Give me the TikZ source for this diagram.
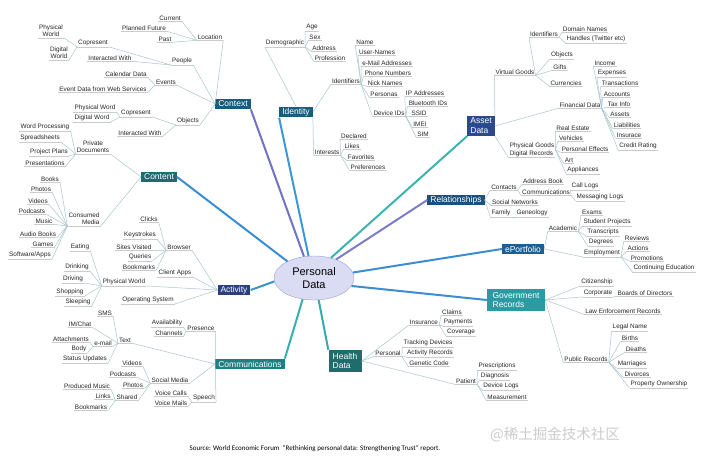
\documentclass[tikz,border=0pt]{standalone}
\usepackage{fontspec}
\setmainfont{Liberation Sans}
\newfontfamily\cjkfont{Noto Sans CJK SC}
\newfontfamily\capfont{Carlito}
\usetikzlibrary{shapes.geometric}
\definecolor{ctxc}{HTML}{1A5C7C}
\definecolor{idnc}{HTML}{1A5C7C}
\definecolor{astc}{HTML}{2B4A8E}
\definecolor{cntc}{HTML}{1D6C70}
\definecolor{relc}{HTML}{1C4F7C}
\definecolor{epc}{HTML}{1E5E90}
\definecolor{actc}{HTML}{2A3F7E}
\definecolor{comc}{HTML}{1F7F82}
\definecolor{hdc}{HTML}{1E6C6C}
\definecolor{govc}{HTML}{2A9BA2}
\definecolor{lctx}{HTML}{7072C4}
\definecolor{lidn}{HTML}{3C98D4}
\definecolor{lcnt}{HTML}{3B8DD3}
\definecolor{last}{HTML}{3DB4B0}
\definecolor{lrel}{HTML}{7C7CC8}
\definecolor{lep}{HTML}{3C8ED4}
\definecolor{lgov}{HTML}{3C8ED4}
\definecolor{lhd}{HTML}{35ABAE}
\definecolor{lcom}{HTML}{35AEB4}
\definecolor{lact}{HTML}{3A94C6}
\definecolor{connc}{HTML}{A9C6CA}
\definecolor{ulc}{HTML}{C8CCCC}
\definecolor{pdfill}{HTML}{D9DCF2}
\definecolor{pddraw}{HTML}{9CA2D4}
\tikzset{
  leaf/.style={font=\fontsize{6.4}{7.4}\selectfont, text=black!85, inner xsep=1pt, inner ysep=0.8pt,
    append after command={(\tikzlastnode.south west) edge[ulline] (\tikzlastnode.south east)}},
  ulline/.style={draw=ulc, line width=0.5pt},
  conn/.style={draw=connc, line width=0.5pt},
  cat/.style={text=white, font=\fontsize{8.5}{9.8}\selectfont, inner xsep=3pt, inner ysep=1.5pt, minimum height=10.5pt},
  thk/.style={line width=2pt},
}
\begin{document}
\begin{tikzpicture}[x=1pt,y=-1pt]
\fill[white] (0,0) rectangle (705,457);
\useasboundingbox (0,0) rectangle (705,457);

% ---------- central node
\node[ellipse, draw=pddraw, fill=pdfill, minimum width=80pt, minimum height=44pt, align=center,
  font=\fontsize{11}{12.5}\selectfont] (pdata) at (314,278) {Personal\\Data};

% ---------- categories
\node[cat,fill=ctxc] (ctx) at (233,104) {Context};
\node[cat,fill=idnc] (idn) at (296,112) {Identity};
\node[cat,fill=astc,align=left,inner ysep=2pt] (ast) at (481,126) {Asset\\Data};
\node[cat,fill=cntc] (cnt) at (159,177) {Content};
\node[cat,fill=relc] (rel) at (456,200) {Relationships};
\node[cat,fill=epc] (ep) at (523,249) {ePortfolio};
\node[cat,fill=actc] (act) at (234,290) {Activity};
\node[cat,fill=comc] (com) at (250,364) {Communications};
\node[cat,fill=hdc,align=left,inner ysep=3pt,minimum width=33pt] (hd) at (345,361) {Health\\Data};
\node[cat,fill=govc,align=left,inner ysep=3pt,minimum width=58pt] (gov) at (516,300) {Government\\Records};

% ---------- thick connectors
\draw[thk,lctx] (pdata.115) -- (ctx.south east);
\draw[thk,lidn] (pdata.104) -- (idn.south west);
\draw[thk,lcnt] (pdata.148) -- (cnt.east);
\draw[thk,last] (pdata.50) -- (ast.south west);
\draw[thk,lrel] (pdata.40) -- (rel.west);
\draw[thk,lep] (pdata.8) -- (ep.west);
\draw[thk,lgov] (pdata.-12) -- (gov.west);
\draw[thk,lhd] (pdata.-78) -- (hd.north west);
\draw[thk,lcom] (pdata.-118) -- (com.north east);
\draw[thk,lact] (pdata.185) -- (act.east);

% ---------- Context
\node[leaf] (loc) at (210,37) {Location};
\node[leaf] (cur) at (170,18) {Current};
\node[leaf] (pf) at (144,28) {Planned Future};
\node[leaf] (past) at (165,39) {Past};
\node[leaf] (ppl) at (182,61) {People};
\node[leaf] (cop1) at (93,43) {Copresent};
\node[leaf,align=center] (pw1) at (51,31) {Physical\\World};
\node[leaf,align=center] (dw1) at (59,53) {Digital\\World};
\node[leaf] (iw1) at (110,58) {Interacted With};
\node[leaf] (evt) at (166,82) {Events};
\node[leaf] (cal) at (126,74) {Calendar Data};
\node[leaf] (edw) at (103,89) {Event Data from Web Services};
\node[leaf] (obj) at (188,121) {Objects};
\node[leaf] (cop2) at (136,113) {Copresent};
\node[leaf] (pw2) at (95,108) {Physical Word};
\node[leaf] (dw2) at (92,118) {Digital Word};
\node[leaf] (iw2) at (140,133) {Interacted With};
\foreach \c in {loc,ppl,evt,obj} \draw[conn] (ctx.west) -- (\c.south east);
\foreach \c in {cur,pf,past} \draw[conn] (loc.south west) -- (\c.south east);
\foreach \c in {cop1,iw1} \draw[conn] (ppl.south west) -- (\c.south east);
\foreach \c in {pw1,dw1} \draw[conn] (cop1.south west) -- (\c.south east);
\foreach \c in {cal,edw} \draw[conn] (evt.south west) -- (\c.south east);
\foreach \c in {cop2,iw2} \draw[conn] (obj.south west) -- (\c.south east);
\foreach \c in {pw2,dw2} \draw[conn] (cop2.south west) -- (\c.south east);

% ---------- Identity
\node[leaf] (dem) at (285,43) {Demographic};
\node[leaf] (age) at (312,27) {Age};
\node[leaf] (sex) at (315,37) {Sex};
\node[leaf] (addr) at (324,48) {Address};
\node[leaf] (prof) at (330,58) {Profession};
\node[leaf] (ids) at (346,81) {Identifiers};
\node[leaf] (name) at (365,42) {Name};
\node[leaf] (un) at (377,52) {User-Names};
\node[leaf] (ema) at (387,63) {e-Mail Addresses};
\node[leaf] (phn) at (388,73) {Phone Numbers};
\node[leaf] (nick) at (385,83) {Nick Names};
\node[leaf] (pers) at (384,94) {Personas};
\node[leaf] (dev) at (389,113) {Device IDs};
\node[leaf] (ip) at (425,93) {IP Addresses};
\node[leaf] (bt) at (428,103) {Bluetooth IDs};
\node[leaf] (ssid) at (419,113) {SSID};
\node[leaf] (imei) at (420,124) {IMEI};
\node[leaf] (sim) at (423,134) {SIM};
\node[leaf] (int) at (327,152) {Interests};
\node[leaf] (decl) at (354,136) {Declared};
\node[leaf] (likes) at (352,146) {Likes};
\node[leaf] (fav) at (361,157) {Favorites};
\node[leaf] (pref) at (368,167) {Preferences};
\draw[conn] (idn.north) -- (dem.south west);
\draw[conn] (idn.east) -- (ids.south west);
\draw[conn] (idn.south east) -- (int.south west);
\foreach \c in {age,sex,addr,prof} \draw[conn] (dem.south east) -- (\c.south west);
\foreach \c in {name,un,ema,phn,nick,pers,dev} \draw[conn] (ids.south east) -- (\c.south west);
\foreach \c in {ip,bt,ssid,imei,sim} \draw[conn] (dev.south east) -- (\c.south west);
\foreach \c in {decl,likes,fav,pref} \draw[conn] (int.south east) -- (\c.south west);

% ---------- Asset Data
\node[leaf] (vg) at (515,72) {Virtual Goods};
\node[leaf] (aid) at (544,34) {Identifiers};
\node[leaf] (dom) at (585,29) {Domain Names};
\node[leaf] (hnd) at (596,39) {Handles (Twitter etc)};
\node[leaf] (vobj) at (562,55) {Objects};
\node[leaf] (gift) at (560,67) {Gifts};
\node[leaf] (curr) at (566,83) {Currencies};
\node[leaf] (fin) at (580,105) {Financial Data};
\node[leaf] (inc) at (605,63) {Income};
\node[leaf] (exps) at (612,73) {Expenses};
\node[leaf] (trn) at (620,83) {Transactions};
\node[leaf] (acc) at (617,94) {Accounts};
\node[leaf] (tax) at (619,104) {Tax Info};
\node[leaf] (asts) at (620,114) {Assets};
\node[leaf] (liab) at (627,125) {Liabilities};
\node[leaf] (insu) at (629,135) {Insurace};
\node[leaf] (cred) at (638,146) {Credit Rating};
\node[leaf,align=left] (pg) at (532,150) {Physical Goods\\Digital Records};
\node[leaf] (re) at (573,128) {Real Estate};
\node[leaf] (veh) at (571,138) {Vehicles};
\node[leaf] (pe) at (585,149) {Personal Effects};
\node[leaf] (art) at (569,160) {Art};
\node[leaf] (appl) at (583,170) {Appliances};
\draw[conn] (ast.north east) -- (vg.south west);
\draw[conn] (ast.east) -- (fin.south west);
\draw[conn] (ast.south east) -- (pg.south west);
\foreach \c in {aid,vobj,gift,curr} \draw[conn] (vg.south east) -- (\c.south west);
\foreach \c in {dom,hnd} \draw[conn] (aid.south east) -- (\c.south west);
\foreach \c in {inc,exps,trn,acc,tax,asts,liab,insu,cred} \draw[conn] (fin.south east) -- (\c.south west);
\foreach \c in {re,veh,pe,art,appl} \draw[conn] (pg.east) -- (\c.south west);

% ---------- Content
\node[leaf,align=center] (pdoc) at (93,147) {Private\\Documents};
\node[leaf] (wp) at (45,127) {Word Processing};
\node[leaf] (ss) at (40,138) {Spreadsheets};
\node[leaf] (pp) at (49,152) {Project Plans};
\node[leaf] (pres) at (45,163) {Presentations};
\node[leaf,align=right] (cm) at (84,219) {Consumed\\Media};
\node[leaf] (books) at (50,179) {Books};
\node[leaf] (photos) at (41,189) {Photos};
\node[leaf] (videos) at (38,201) {Videos};
\node[leaf] (podc) at (32,211) {Podcasts};
\node[leaf] (music) at (44,221) {Music};
\node[leaf] (ab) at (38,234) {Audio Books};
\node[leaf] (games) at (43,244) {Games};
\node[leaf] (sw) at (30,255) {Software/Apps};
\foreach \c in {pdoc,cm} \draw[conn] (cnt.west) -- (\c.south east);
\foreach \c in {wp,ss,pp,pres} \draw[conn] (pdoc.south west) -- (\c.south east);
\foreach \c in {books,photos,videos,podc,music,ab,games,sw} \draw[conn] (cm.south west) -- (\c.south east);

% ---------- Activity
\node[leaf] (brw) at (179,247) {Browser};
\node[leaf] (clk) at (149,219) {Clicks};
\node[leaf] (key) at (140,235) {Keystrokes};
\node[leaf] (sv) at (134,247) {Sites Visited};
\node[leaf] (qry) at (140,257) {Queries};
\node[leaf] (bm) at (139,267) {Bookmarks};
\node[leaf] (ca) at (175,273) {Client Apps};
\node[leaf] (apw) at (124,282) {Physical World};
\node[leaf] (eat) at (80,247) {Eating};
\node[leaf] (drink) at (77,267) {Drinking};
\node[leaf] (drive) at (73,279) {Driving};
\node[leaf] (shop) at (70,292) {Shopping};
\node[leaf] (sleep) at (78,302) {Sleeping};
\node[leaf] (os) at (148,300) {Operating System};
\foreach \c in {brw,ca,apw,os} \draw[conn] (act.west) -- (\c.south east);
\foreach \c in {clk,key,sv,qry,bm} \draw[conn] (brw.south west) -- (\c.south east);
\foreach \c in {eat,drink,drive,shop,sleep} \draw[conn] (apw.south west) -- (\c.south east);

% ---------- Communications
\node[leaf] (prs) at (201,328) {Presence};
\node[leaf] (avl) at (167,323) {Availability};
\node[leaf] (chn) at (169,333) {Channels};
\node[leaf] (txt) at (125,340) {Text};
\node[leaf] (sms) at (105,313) {SMS};
\node[leaf] (im) at (80,324) {IM/Chat};
\node[leaf] (eml) at (103,343) {e-mail};
\node[leaf] (att) at (71,339) {Attachments};
\node[leaf] (body) at (79,349) {Body};
\node[leaf] (su) at (85,359) {Status Updates};
\node[leaf] (sm) at (170,380) {Social Media};
\node[leaf] (svid) at (132,363) {Videos};
\node[leaf] (spod) at (123,374) {Podcasts};
\node[leaf] (sph) at (133,385) {Photos};
\node[leaf] (shr) at (127,397) {Shared};
\node[leaf] (prm) at (87,386) {Produced Music};
\node[leaf] (lnk) at (103,396) {Links};
\node[leaf] (sbm) at (91,407) {Bookmarks};
\node[leaf] (sp) at (204,398) {Speech};
\node[leaf] (vc) at (171,393) {Voice Calls};
\node[leaf] (vm) at (171,403) {Voice Mails};
\foreach \c in {prs,txt,sm,sp} \draw[conn] (com.west) -- (\c.south east);
\foreach \c in {avl,chn} \draw[conn] (prs.south west) -- (\c.south east);
\foreach \c in {sms,im,eml,su} \draw[conn] (txt.south west) -- (\c.south east);
\foreach \c in {att,body} \draw[conn] (eml.south west) -- (\c.south east);
\foreach \c in {svid,spod,sph,shr} \draw[conn] (sm.south west) -- (\c.south east);
\foreach \c in {prm,lnk,sbm} \draw[conn] (shr.south west) -- (\c.south east);
\foreach \c in {vc,vm} \draw[conn] (sp.south west) -- (\c.south east);

% ---------- Health Data
\node[leaf] (ins) at (424,322) {Insurance};
\node[leaf] (clm) at (452,312) {Claims};
\node[leaf] (pay) at (458,322) {Payments};
\node[leaf] (cov) at (461,332) {Coverage};
\node[leaf] (per) at (388,353) {Personal};
\node[leaf] (trk) at (428,343) {Tracking Devices};
\node[leaf] (ar) at (430,353) {Activity Records};
\node[leaf] (gc) at (429,363) {Genetic Code};
\node[leaf] (pat) at (466,381) {Patient};
\node[leaf] (presc) at (497,366) {Prescriptions};
\node[leaf] (diag) at (495,376) {Diagnosis};
\node[leaf] (dl) at (501,386) {Device Logs};
\node[leaf] (meas) at (507,397) {Measurement};
\foreach \c in {ins,per,pat} \draw[conn] (hd.east) -- (\c.south west);
\foreach \c in {clm,pay,cov} \draw[conn] (ins.south east) -- (\c.south west);
\foreach \c in {trk,ar,gc} \draw[conn] (per.south east) -- (\c.south west);
\foreach \c in {presc,diag,dl,meas} \draw[conn] (pat.south east) -- (\c.south west);

% ---------- Government Records
\node[leaf] (cit) at (597,282) {Citizenship};
\node[leaf] (corp) at (598,293) {Corporate};
\node[leaf] (bod) at (645,293) {Boards of Directors};
\node[leaf] (law) at (623,311) {Law Enforcement Records};
\node[leaf] (pub) at (586,359) {Public Records};
\node[leaf] (ln) at (630,327) {Legal Name};
\node[leaf] (bir) at (630,338) {Births};
\node[leaf] (dea) at (636,349) {Deaths};
\node[leaf] (mar) at (632,364) {Marriages};
\node[leaf] (dvc) at (637,374) {Divorces};
\node[leaf] (po) at (659,384) {Property Ownership};
\foreach \c in {cit,corp,law,pub} \draw[conn] (gov.east) -- (\c.south west);
\draw[conn] (corp.south east) -- (bod.south west);
\foreach \c in {ln,bir,dea,mar,dvc,po} \draw[conn] (pub.south east) -- (\c.south west);

% ---------- Relationships
\node[leaf] (cont) at (504,187) {Contacts};
\node[leaf] (abk) at (543,181) {Address Book};
\node[leaf] (rcom) at (546,192) {Communications};
\node[leaf] (cl) at (585,186) {Call Logs};
\node[leaf] (ml) at (600,197) {Messaging Logs};
\node[leaf] (sn) at (515,202) {Social Networks};
\node[leaf] (fam) at (501,213) {Family};
\node[leaf] (gen) at (532,213) {Geneology};
\foreach \c in {cont,sn,fam} \draw[conn] (rel.east) -- (\c.south west);
\foreach \c in {abk,rcom} \draw[conn] (cont.south east) -- (\c.south west);
\foreach \c in {cl,ml} \draw[conn] (rcom.south east) -- (\c.south west);
\draw[conn] (fam.south east) -- (gen.south west);

% ---------- ePortfolio
\node[leaf] (acad) at (563,228) {Academic};
\node[leaf] (exm) at (592,212) {Exams};
\node[leaf] (stp) at (607,222) {Student Projects};
\node[leaf] (trs) at (603,232) {Transcripts};
\node[leaf] (deg) at (601,242) {Degrees};
\node[leaf] (emp) at (602,253) {Employment};
\node[leaf] (rev) at (637,238) {Reviews};
\node[leaf] (actn) at (638,248) {Actions};
\node[leaf] (prom) at (647,258) {Promotions};
\node[leaf] (ce) at (664,268) {Continuing Education};
\foreach \c in {acad,emp} \draw[conn] (ep.east) -- (\c.south west);
\foreach \c in {exm,stp,trs,deg} \draw[conn] (acad.south east) -- (\c.south west);
\foreach \c in {rev,actn,prom,ce} \draw[conn] (emp.south east) -- (\c.south west);

% ---------- caption and watermark
\node[font=\capfont\fontsize{7}{8}\selectfont, text=black] (src) at (315,449)
  {Source: World Economic Forum~~“Rethinking personal data: Strengthening Trust” report.};
\node[font=\cjkfont\fontsize{14.5}{16}\selectfont, text=gray!40] (wm) at (555,435) {@稀土掘金技术社区};
\end{tikzpicture}
\end{document}
